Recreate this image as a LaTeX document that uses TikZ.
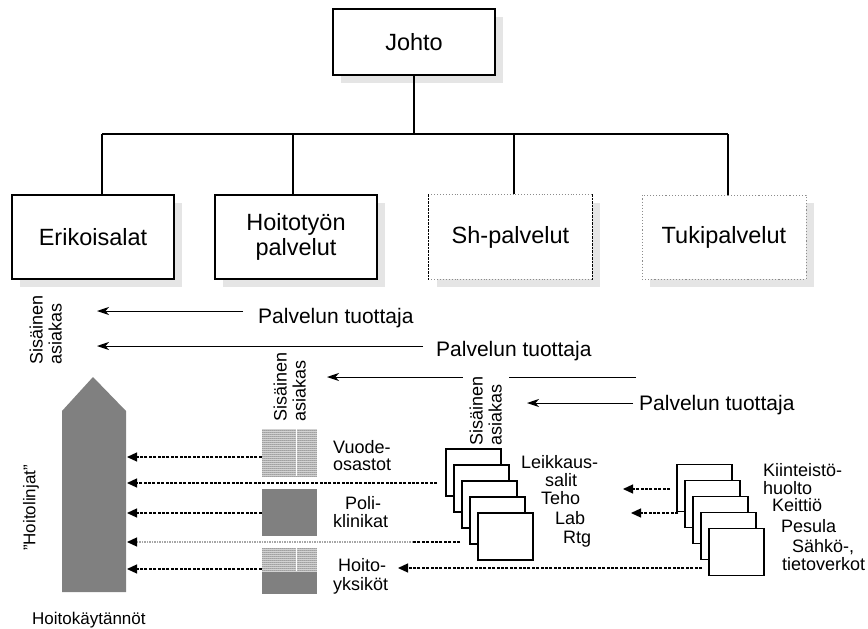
\documentclass[tikz,border=0pt]{standalone}
\usepackage{fontspec}
\setmainfont{Liberation Sans}
\usetikzlibrary{shadows,arrows.meta,patterns.meta}

\tikzset{
  orgbox/.style={line width=1.1pt, fill=white, minimum width=162pt,
    minimum height=84pt, inner sep=0pt, align=center,
    font=\fontsize{23.5}{25}\selectfont,
    drop shadow={shadow xshift=8pt, shadow yshift=-8pt, fill=black!10, opacity=1}},
  tree/.style={line width=1.1pt},
  flow/.style={line width=1pt, -{Stealth[length=12pt,width=8pt,inset=3.5pt]}},
  feed/.style={line width=1.2pt, dash pattern=on 3pt off 1.4pt,
    -{Triangle[length=10pt,width=9pt,color=black]}},
  feedplain/.style={line width=1.2pt, dash pattern=on 3pt off 1.4pt},
  feedlight/.style={line width=1.2pt, draw=black!35, dash pattern=on 1.5pt off 1pt,
    -{Triangle[length=10pt,width=9pt,color=black]}},
  ptxt/.style={inner sep=0pt, anchor=base west, font=\fontsize{21}{21}\selectfont},
  lbl/.style={inner sep=0pt, anchor=base west, font=\fontsize{18}{18}\selectfont},
  sis/.style={inner sep=0pt, rotate=90, anchor=south west, align=left,
    font=\fontsize{18}{19}\selectfont},
  stipple/.style={inner sep=0pt, minimum width=55pt, fill=white,
    pattern={Dots[distance=2pt,radius=0.75pt]}, pattern color=black!75},
  solidgray/.style={inner sep=0pt, minimum width=55pt, fill=gray},
  stackbox/.style={draw, fill=white, line width=1.1pt, minimum width=55pt,
    minimum height=47pt, inner sep=0pt},
}

\begin{document}
\begin{tikzpicture}[x=1pt,y=-1pt]
\useasboundingbox[fill=white] (0,0) rectangle (868,629);

% ---- organisation chart ----
\node[orgbox, draw, minimum height=66pt] (johto) at (414,42) {Johto};
\node[orgbox, draw] (erik) at (93,237) {Erikoisalat};
\node[orgbox, draw] (hoit) at (296,237) {Hoitotyön\\palvelut};
\node[orgbox, minimum width=163pt] (sh) at (510.5,237) {Sh-palvelut};
\node[orgbox, minimum width=164pt, draw=black!45, dotted, line width=0.9pt] (tuki) at (724,237) {Tukipalvelut};

% Sh-palvelut frame: dotted top/bottom, dashed sides
\draw[black!45, dotted, line width=0.9pt] (sh.north west) -- (sh.north east);
\draw[black!45, dotted, line width=0.9pt] (sh.south west) -- (sh.south east);
\draw[line width=1.3pt, dash pattern=on 2.5pt off 1pt] (sh.north west) -- (sh.south west);
\draw[line width=1.3pt, dash pattern=on 2.5pt off 1pt] (sh.north east) -- (sh.south east);

\coordinate (busL) at (102,134);
\coordinate (bus2) at (293,134);
\coordinate (bus3) at (514,134);
\coordinate (busR) at (728,134);
\draw[tree] (johto.south) -- (johto.south |- busL);
\draw[tree] (busL) -- (busR);
\draw[tree] (busL) -- (busL |- erik.north);
\draw[tree] (bus2) -- (bus2 |- hoit.north);
\draw[tree] (bus3) -- (bus3 |- sh.north);
\draw[tree] (busR) -- (busR |- tuki.north);

% ---- internal customer / service producer chain ----
\node[sis] (sisA) at (62,365) {Sisäinen\\asiakas};
\node[sis] (sisB) at (306,422) {Sisäinen\\asiakas};

\coordinate (a1s) at (243,311); \coordinate (a1e) at (97,311);
\coordinate (a2s) at (423,346); \coordinate (a2e) at (97,346);
\coordinate (a3s) at (636,377); \coordinate (a3e) at (327,377);
\coordinate (a4s) at (633,403); \coordinate (a4e) at (527,403);
\draw[flow] (a1s) -- (a1e);
\draw[flow] (a2s) -- (a2e);
\draw[flow] (a3s) -- (a3e);
\draw[flow] (a4s) -- (a4e);
\node[ptxt] (pt1) at (258,323) {Palvelun tuottaja};
\node[ptxt] (pt2) at (436,356) {Palvelun tuottaja};
\node[ptxt] (pt3) at (639,410) {Palvelun tuottaja};

\node[sis, fill=white, inner xsep=3pt, inner ysep=7pt] (sisC) at (509,449) {Sisäinen\\asiakas};

% ---- care lines ----
\fill[gray] (62,411) -- (93,377) -- (126,411) -- (126,592) -- (62,592) -- cycle;
\node[inner sep=0pt, rotate=90, font=\fontsize{17}{17}\selectfont] (linjat) at (31,508) {\symbol{"22}Hoitolinjat\symbol{"22}};
\node[inner sep=0pt, anchor=base west, font=\fontsize{17}{17}\selectfont] (kaytannot) at (32,624) {Hoitokäytännöt};

% units feeding the care lines
\node[stipple, minimum height=47pt] (vuode) at (289.5,452.5) {};
\node[solidgray, minimum height=47pt] (poli) at (289.5,512.5) {};
\node[stipple, minimum height=23pt] (hoitoA) at (289.5,559.5) {};
\node[solidgray, minimum height=22pt] (hoitoB) at (289.5,583) {};
\draw[white, line width=1pt] ([xshift=6.5pt]vuode.north) -- ([xshift=6.5pt]vuode.south);
\draw[white, line width=1pt] ([xshift=6.5pt]hoitoA.north) -- ([xshift=6.5pt]hoitoA.south);

\node[lbl] (vu1) at (333,453) {Vuode-};
\node[lbl] (vu2) at (333,470) {osastot};
\node[lbl] (po1) at (345,509) {Poli-};
\node[lbl] (po2) at (333,527) {klinikat};
\node[lbl] (hy1) at (338,571) {Hoito-};
\node[lbl] (hy2) at (333,590) {yksiköt};

\coordinate (h1) at (127,457);
\coordinate (h2) at (127,483);
\coordinate (h3) at (127,513);
\coordinate (h4) at (127,542);
\coordinate (h5) at (127,569);
\coordinate (c2) at (437,483);
\coordinate (c4) at (460,542);
\coordinate (c4m) at (413,542);
\draw[feed] (vuode.west |- h1) -- (h1);
\draw[feed] (c2) -- (h2);
\draw[feed] (poli.west |- h3) -- (h3);
\draw[feedplain] (c4) -- (c4m);
\draw[feedlight] (c4m) -- (h4);
\draw[feed] (hoitoA.west |- h5) -- (h5);

% ---- operating units stack ----
\foreach \i in {0,...,4}
  \node[stackbox] (ls\i) at ({446+8*\i+27.5},{449+16*\i+23.5}) {};
\node[lbl] (le1) at (521,468) {Leikkaus-};
\node[lbl] (le2) at (545,486) {salit};
\node[lbl] (le3) at (541,504) {Teho};
\node[lbl] (le4) at (555,524) {Lab};
\node[lbl] (le5) at (563,543) {Rtg};

% ---- support services stack ----
\foreach \i in {0,...,4}
  \node[stackbox] (rs\i) at ({677+8*\i+27.5},{465+16*\i+23}) {};
\node[lbl] (ki1) at (763,476) {Kiinteistö-};
\node[lbl] (ki2) at (763,494) {huolto};
\node[lbl] (ki3) at (772,511) {Keittiö};
\node[lbl] (ki4) at (781,532) {Pesula};
\node[lbl] (ki5) at (792,552) {Sähkö-,};
\node[lbl] (ki6) at (782,570) {tietoverkot};

\coordinate (c6) at (702,568); \coordinate (c6e) at (398,568);
\coordinate (c7) at (670,489); \coordinate (c7e) at (623,489);
\coordinate (c8) at (678,513); \coordinate (c8e) at (631,513);
\draw[feed] (c6) -- (c6e);
\draw[feed] (c7) -- (c7e);
\draw[feed] (c8) -- (c8e);
\end{tikzpicture}
\end{document}
